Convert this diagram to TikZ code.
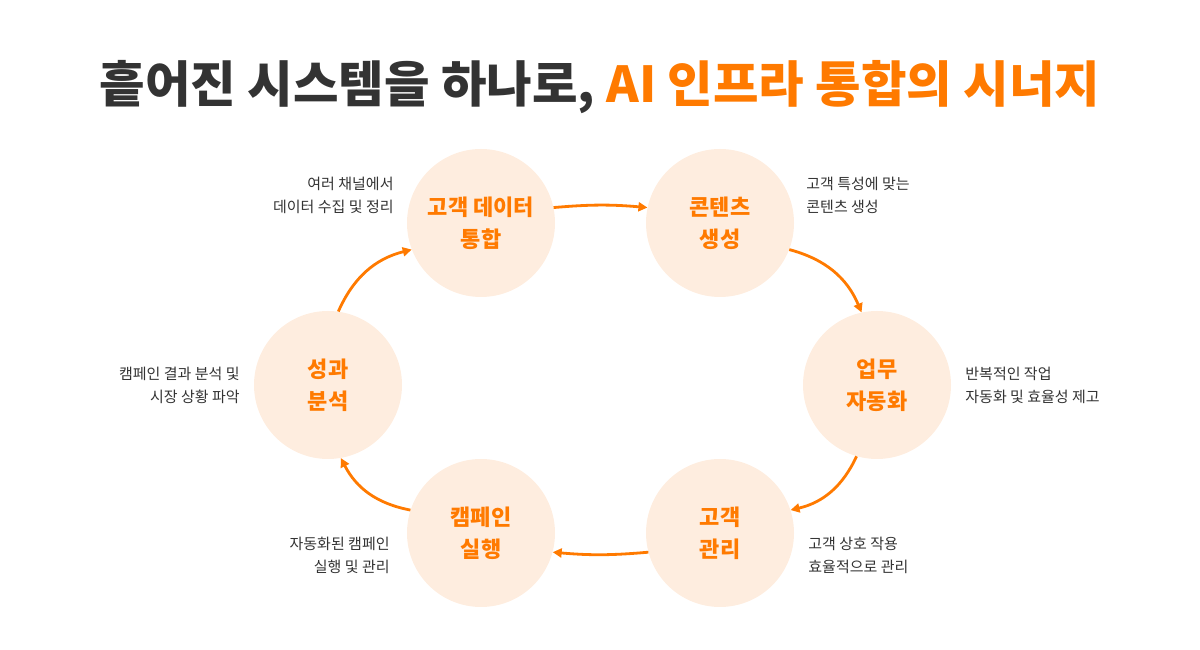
\documentclass[tikz,border=0pt]{standalone}
\usepackage{fontspec}
\setmainfont{Noto Sans CJK KR}
\usepackage{xcolor}
\usetikzlibrary{arrows.meta,positioning}
\definecolor{brand}{HTML}{FF7A00}
\definecolor{peach}{HTML}{FEEDDF}
\definecolor{ink}{HTML}{333333}

\begin{document}
\begin{tikzpicture}[
  x=1pt,y=1pt,
  stage/.style={circle,fill=peach,minimum size=148pt,inner sep=0pt,align=center,
    text=brand,font=\fontsize{22}{32}\selectfont\bfseries},
  note/.style={inner sep=0pt,text=ink,font=\fontsize{15}{23}\selectfont},
  arr/.style={-{Triangle[length=9pt,width=9pt]},line width=2.8pt,draw=brand}
]
\useasboundingbox (0,0) rectangle (1200,650);
\node[font=\fontsize{49.5}{54}\selectfont\bfseries] (title) at (600,563)
  {\textcolor{ink}{흩어진 시스템을 하나로,} \textcolor{brand}{AI 인프라 통합의 시너지}};

% the six stages of the cycle
\node[stage] (data) at (481,427) {고객 데이터\\통합};
\node[stage] (content) at (720,427) {콘텐츠\\생성};
\node[stage] (auto) at (877,265) {업무\\자동화};
\node[stage] (care) at (720,117) {고객\\관리};
\node[stage] (campaign) at (481,117) {캠페인\\실행};
\node[stage] (perf) at (328,265) {성과\\분석};

% notes beside each stage
\node[note,align=right,left=13pt of data,yshift=28pt] (datanote) {여러 채널에서\\데이터 수집 및 정리};
\node[note,align=left,right=12pt of content,yshift=28pt] (contentnote) {고객 특성에 맞는\\콘텐츠 생성};
\node[note,align=left,right=14pt of auto] (autonote) {반복적인 작업\\자동화 및 효율성 제고};
\node[note,align=right,left=14pt of perf] (perfnote) {캠페인 결과 분석 및\\시장 상황 파악};
\node[note,align=right,left=17pt of campaign,yshift=-22pt] (campaignnote) {자동화된 캠페인\\실행 및 관리};
\node[note,align=left,right=14pt of care,yshift=-22pt] (carenote) {고객 상호 작용\\효율적으로 관리};

\draw[arr] (data.12) to[bend left=5] (content.168);
\draw[arr] (content.-21) to[bend left=26] (auto.102);
\draw[arr] (auto.-106) to[bend left=26] (care.18);
\draw[arr] (care.195) to[bend left=5] (campaign.-15);
\draw[arr] (campaign.162) to[bend left=26] (perf.-80);
\draw[arr] (perf.82) to[bend left=26] (data.201);
\end{tikzpicture}
\end{document}
